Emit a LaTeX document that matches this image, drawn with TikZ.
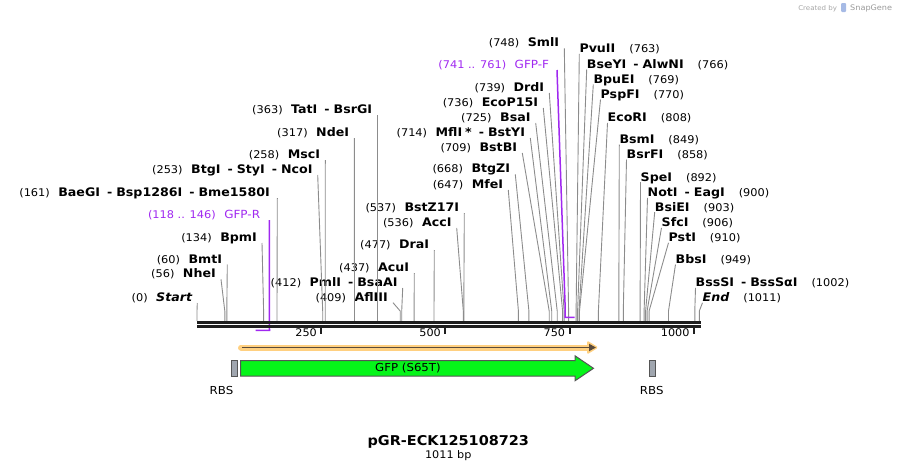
\documentclass[tikz,border=0pt]{standalone}
\usepackage{fontspec}
\setmainfont{DejaVu Sans}[FakeStretch=1.07]
\usetikzlibrary{arrows.meta}
\definecolor{cutgray}{RGB}{140,140,140}
\definecolor{primerpurple}{RGB}{160,40,240}
\definecolor{bbblack}{RGB}{30,30,30}
\definecolor{gfpgreen}{RGB}{5,245,25}
\definecolor{featline}{RGB}{85,85,85}
\definecolor{orfglow}{RGB}{255,208,128}
\definecolor{orfline}{RGB}{90,75,60}
\definecolor{rbsgray}{RGB}{160,166,175}
\newcommand{\cpos}[1]{{\fontsize{10.6}{12}\selectfont #1}}
\newcommand{\cname}[1]{{\fontsize{11.8}{13}\selectfont\bfseries #1}}
\newcommand{\cdash}{\hspace{7pt}\cname{-}\hspace{4pt}}
\newcommand{\lgap}{\hspace{8.5pt}}
\newcommand{\rgap}{\hspace{14pt}}

\begin{document}
\begin{tikzpicture}[
    x=1pt, y=-1pt,
    lft/.style={anchor=base east, inner sep=0pt},
    rgt/.style={anchor=base west, inner sep=0pt},
    cut/.style={cutgray, line width=0.9pt},
    primer/.style={primerpurple, line width=1.5pt},
    bb/.style={bbblack, line width=3pt},
    tick/.style={bbblack, line width=2pt},
    ticklbl/.style={anchor=base east, inner sep=0pt, font=\fontsize{10.5}{12}\selectfont},
    rbsbox/.style={draw=featline, fill=rbsgray, line width=1pt, minimum width=6.5pt, minimum height=15.5pt, inner sep=0pt},
    featlbl/.style={inner sep=0pt, font=\fontsize{11}{13}\selectfont}
]
    \useasboundingbox (0,0) rectangle (898,471);

    % Sites on the backbone
    \coordinate (c0) at (197,321);
    \coordinate (c56) at (224.8,321);
    \coordinate (c60) at (226.8,321);
    \coordinate (c134) at (263.6,321);
    \coordinate (c161) at (277.0,321);
    \coordinate (c253) at (322.7,321);
    \coordinate (c258) at (325.2,321);
    \coordinate (c317) at (354.5,321);
    \coordinate (c363) at (377.3,321);
    \coordinate (c409) at (400.2,321);
    \coordinate (c412) at (401.7,321);
    \coordinate (c437) at (414.1,321);
    \coordinate (c477) at (434.0,321);
    \coordinate (c536) at (463.3,321);
    \coordinate (c537) at (463.8,321);
    \coordinate (c647) at (518.4,321);
    \coordinate (c668) at (528.9,321);
    \coordinate (c709) at (549.2,321);
    \coordinate (c714) at (551.7,321);
    \coordinate (c725) at (557.2,321);
    \coordinate (c736) at (562.6,321);
    \coordinate (c739) at (564.1,321);
    \coordinate (c748) at (568.6,321);
    \coordinate (c763) at (576.1,321);
    \coordinate (c766) at (577.6,321);
    \coordinate (c769) at (579.0,321);
    \coordinate (c770) at (579.5,321);
    \coordinate (c808) at (598.4,321);
    \coordinate (c849) at (618.8,321);
    \coordinate (c858) at (623.3,321);
    \coordinate (c892) at (640.1,321);
    \coordinate (c900) at (644.1,321);
    \coordinate (c903) at (645.6,321);
    \coordinate (c906) at (647.1,321);
    \coordinate (c910) at (649.1,321);
    \coordinate (c949) at (668.5,321);
    \coordinate (c1002) at (694.8,321);
    \coordinate (c1011) at (699.3,321);

    % Enzymes left of their site
    \node[lft] (tati) at (372.3,113.5) {\cpos{(363)}\lgap\cname{TatI}\cdash\cname{BsrGI}};
    \node[lft] (ndei) at (349.3,136.5) {\cpos{(317)}\lgap\cname{NdeI}};
    \node[lft] (msci) at (320.3,158.5) {\cpos{(258)}\lgap\cname{MscI}};
    \node[lft] (btgi) at (312.7,173.5) {\cpos{(253)}\lgap\cname{BtgI}\cdash\cname{StyI}\cdash\cname{NcoI}};
    \node[lft] (baegi) at (270,196.5) {\cpos{(161)}\lgap\cname{BaeGI}\cdash\cname{Bsp1286I}\cdash\cname{Bme1580I}};
    \node[lft] (bpmi) at (257,241.5) {\cpos{(134)}\lgap\cname{BpmI}};
    \node[lft] (bmti) at (222.3,263) {\cpos{(60)}\lgap\cname{BmtI}};
    \node[lft] (nhei) at (216,277.8) {\cpos{(56)}\lgap\cname{NheI}};
    \node[lft] (start) at (192.3,301.5) {\cpos{(0)}\lgap\cname{\itshape Start}};
    \node[lft] (pmli) at (397.7,286.5) {\cpos{(412)}\lgap\cname{PmlI}\cdash\cname{BsaAI}};
    \node[lft] (afliii) at (388,301.2) {\cpos{(409)}\lgap\cname{AflIII}};
    \node[lft] (acui) at (409.3,271.5) {\cpos{(437)}\lgap\cname{AcuI}};
    \node[lft] (drai) at (429.3,248.5) {\cpos{(477)}\lgap\cname{DraI}};
    \node[lft] (acci) at (451.7,226.5) {\cpos{(536)}\lgap\cname{AccI}};
    \node[lft] (bstz) at (459.3,211.5) {\cpos{(537)}\lgap\cname{BstZ17I}};
    \node[lft] (mfei) at (503.3,188.5) {\cpos{(647)}\lgap\cname{MfeI}};
    \node[lft] (btgzi) at (510.3,172.8) {\cpos{(668)}\lgap\cname{BtgZI}};
    \node[lft] (bstbi) at (517.3,151.5) {\cpos{(709)}\lgap\cname{BstBI}};
    \node[lft] (mfli) at (525.3,136.5) {\cpos{(714)}\lgap\cname{MflI\hspace{3pt}*}\cdash\cname{BstYI}};
    \node[lft] (bsai) at (530.7,121.5) {\cpos{(725)}\lgap\cname{BsaI}};
    \node[lft] (ecop) at (538.3,106.5) {\cpos{(736)}\lgap\cname{EcoP15I}};
    \node[lft] (drdi) at (544.3,91.5) {\cpos{(739)}\lgap\cname{DrdI}};
    \node[lft] (smli) at (559.3,46.8) {\cpos{(748)}\lgap\cname{SmlI}};

    % Enzymes right of their site
    \node[rgt] (pvuii) at (579.3,52.8) {\cname{PvuII}\rgap\cpos{(763)}};
    \node[rgt] (bseyi) at (586.7,68.5) {\cname{BseYI}\cdash\cname{AlwNI}\rgap\cpos{(766)}};
    \node[rgt] (bpuei) at (593.3,83.5) {\cname{BpuEI}\rgap\cpos{(769)}};
    \node[rgt] (pspfi) at (600.5,98.5) {\cname{PspFI}\rgap\cpos{(770)}};
    \node[rgt] (ecori) at (607.5,121.8) {\cname{EcoRI}\rgap\cpos{(808)}};
    \node[rgt] (bsmi) at (619.3,143.5) {\cname{BsmI}\rgap\cpos{(849)}};
    \node[rgt] (bsrfi) at (626.5,158.5) {\cname{BsrFI}\rgap\cpos{(858)}};
    \node[rgt] (spei) at (640.5,181.2) {\cname{SpeI}\rgap\cpos{(892)}};
    \node[rgt] (noti) at (647.5,196.8) {\cname{NotI}\cdash\cname{EagI}\rgap\cpos{(900)}};
    \node[rgt] (bsiei) at (654.7,211.2) {\cname{BsiEI}\rgap\cpos{(903)}};
    \node[rgt] (sfci) at (661.5,226.8) {\cname{SfcI}\rgap\cpos{(906)}};
    \node[rgt] (psti) at (668.5,241.8) {\cname{PstI}\rgap\cpos{(910)}};
    \node[rgt] (bbsi) at (675.5,263.5) {\cname{BbsI}\rgap\cpos{(949)}};
    \node[rgt] (bsssi) at (695.5,286.8) {\cname{BssSI}\cdash\cname{BssSαI}\rgap\cpos{(1002)}};
    \node[rgt] (endpt) at (702.5,301.8) {\cname{\itshape End}\rgap\cpos{(1011)}};

    % Cut lines
    \draw[cut] ([xshift=5pt,yshift=-1.5pt]tati.base east) -- ([yshift=10pt]c363) -- (c363);
    \draw[cut] ([xshift=5pt,yshift=-1.5pt]ndei.base east) -- ([yshift=10pt]c317) -- (c317);
    \draw[cut] ([xshift=5pt,yshift=-1.5pt]msci.base east) -- ([yshift=10pt]c258) -- (c258);
    \draw[cut] ([xshift=5pt,yshift=-1.5pt]btgi.base east) -- ([yshift=10pt]c253) -- (c253);
    \draw[cut] ([xshift=7.3pt,yshift=-1.5pt]baegi.base east) -- ([yshift=10pt]c161) -- (c161);
    \draw[cut] ([xshift=5pt,yshift=-1.5pt]bpmi.base east) -- ([yshift=10pt]c134) -- (c134);
    \draw[cut] ([xshift=5pt,yshift=-1.5pt]bmti.base east) -- ([yshift=10pt]c60) -- (c60);
    \draw[cut] ([xshift=5pt,yshift=-1.5pt]nhei.base east) -- ([yshift=10pt]c56) -- (c56);
    \draw[cut] ([xshift=5pt,yshift=-1.5pt]start.base east) -- ([yshift=10pt]c0) -- (c0);
    \draw[cut] ([xshift=5pt,yshift=-1.5pt]pmli.base east) -- ([yshift=10pt]c412) -- (c412);
    \draw[cut] ([xshift=5pt,yshift=-1.5pt]afliii.base east) -- ([yshift=10pt]c409) -- (c409);
    \draw[cut] ([xshift=5pt,yshift=-1.5pt]acui.base east) -- ([yshift=10pt]c437) -- (c437);
    \draw[cut] ([xshift=5pt,yshift=-1.5pt]drai.base east) -- ([yshift=10pt]c477) -- (c477);
    \draw[cut] ([xshift=5pt,yshift=-1.5pt]acci.base east) -- ([yshift=10pt]c536) -- (c536);
    \draw[cut] ([xshift=5pt,yshift=-1.5pt]bstz.base east) -- ([yshift=10pt]c537) -- (c537);
    \draw[cut] ([xshift=5pt,yshift=-1.5pt]mfei.base east) -- ([yshift=10pt]c647) -- (c647);
    \draw[cut] ([xshift=5pt,yshift=-1.5pt]btgzi.base east) -- ([yshift=10pt]c668) -- (c668);
    \draw[cut] ([xshift=5pt,yshift=-1.5pt]bstbi.base east) -- ([yshift=10pt]c709) -- (c709);
    \draw[cut] ([xshift=5pt,yshift=-1.5pt]mfli.base east) -- ([yshift=10pt]c714) -- (c714);
    \draw[cut] ([xshift=5pt,yshift=-1.5pt]bsai.base east) -- ([yshift=10pt]c725) -- (c725);
    \draw[cut] ([xshift=5pt,yshift=-1.5pt]ecop.base east) -- ([yshift=10pt]c736) -- (c736);
    \draw[cut] ([xshift=5pt,yshift=-1.5pt]drdi.base east) -- ([yshift=10pt]c739) -- (c739);
    \draw[cut] ([xshift=5pt,yshift=-1.5pt]smli.base east) -- ([yshift=10pt]c748) -- (c748);
    \draw[cut] ([yshift=-1pt]pvuii.base west) -- ([yshift=10pt]c763) -- (c763);
    \draw[cut] ([yshift=-1pt]bseyi.base west) -- ([yshift=10pt]c766) -- (c766);
    \draw[cut] ([yshift=-1pt]bpuei.base west) -- ([yshift=10pt]c769) -- (c769);
    \draw[cut] ([yshift=-1pt]pspfi.base west) -- ([yshift=10pt]c770) -- (c770);
    \draw[cut] ([yshift=-1pt]ecori.base west) -- ([yshift=10pt]c808) -- (c808);
    \draw[cut] ([yshift=-1pt]bsmi.base west) -- ([yshift=10pt]c849) -- (c849);
    \draw[cut] ([yshift=-1pt]bsrfi.base west) -- ([yshift=10pt]c858) -- (c858);
    \draw[cut] ([yshift=-1pt]spei.base west) -- ([yshift=10pt]c892) -- (c892);
    \draw[cut] ([yshift=-1pt]noti.base west) -- ([yshift=10pt]c900) -- (c900);
    \draw[cut] ([yshift=-1pt]bsiei.base west) -- ([yshift=10pt]c903) -- (c903);
    \draw[cut] ([yshift=-1pt]sfci.base west) -- ([yshift=10pt]c906) -- (c906);
    \draw[cut] ([yshift=-1pt]psti.base west) -- ([yshift=10pt]c910) -- (c910);
    \draw[cut] ([yshift=-1pt]bbsi.base west) -- ([yshift=10pt]c949) -- (c949);
    \draw[cut] ([yshift=-1pt]bsssi.base west) -- ([yshift=10pt]c1002) -- (c1002);
    \draw[cut] ([yshift=-1pt]endpt.base west) -- ([yshift=10pt]c1011) -- (c1011);

    % Primers
    \coordinate (p118) at (255.6,330.3);
    \coordinate (p146) at (269.5,330.3);
    \coordinate (p741) at (565.1,317.3);
    \coordinate (p761) at (574.6,317.3);
    \node[lft, text=primerpurple] (gfpr) at (260.3,218.5) {\cpos{(118 .. 146)}\lgap{\fontsize{11.2}{13}\selectfont GFP-R}};
    \node[lft, text=primerpurple] (gfpf) at (549.3,68) {\cpos{(741 .. 761)}\lgap{\fontsize{11.2}{13}\selectfont GFP-F}};
    \draw[primer] ([xshift=9pt,yshift=-1.5pt]gfpr.base east) -- (p146) -- (p118);
    \draw[primer] ([xshift=7.7pt,yshift=-2pt]gfpf.base east) -- ([yshift=12pt]p741) -- (p741) -- (p761);

    % Backbone and ruler
    \draw[bb] (197,322.2) -- (701,322.2);
    \draw[bb] (197,326.5) -- (701,326.5);
    \draw[tick] (321.2,328) -- (321.2,333.8);
    \draw[tick] (445.4,328) -- (445.4,333.8);
    \draw[tick] (569.6,328) -- (569.6,333.8);
    \draw[tick] (693.8,328) -- (693.8,333.8);
    \node[ticklbl] (t250) at (317,336.8) {250};
    \node[ticklbl] (t500) at (441,336.8) {500};
    \node[ticklbl] (t750) at (565.3,336.8) {750};
    \node[ticklbl] (t1000) at (689.7,336.8) {1000};

    % Features
    \draw[orfglow, line width=6pt, line cap=round] (241,347.5) -- (589,347.5);
    \fill[orfglow, rounded corners=1.5pt] (587,340.5) -- (598.5,347.5) -- (587,354.5) -- cycle;
    \draw[orfline, line width=1.8pt, -{Triangle[length=7pt,width=7pt]}] (242,347.5) -- (596,347.5);
    \draw[featline, fill=gfpgreen, line width=1pt] (240.7,360.5) -- (575,360.5) -- (575,355.8) -- (593.5,368.3) -- (575,380.8) -- (575,376.2) -- (240.7,376.2) -- cycle;
    \node[featlbl] (gfp) at (408,368.3) {GFP (S65T)};
    \node[rbsbox] (rbs1) at (234.4,368.3) {};
    \node[rbsbox] (rbs2) at (652.5,368.3) {};
    \node[featlbl, anchor=base] (rbs1lbl) at (221.5,394) {RBS};
    \node[featlbl, anchor=base] (rbs2lbl) at (651.7,394) {RBS};

    % Title
    \node[anchor=base, font=\fontsize{13.5}{16}\selectfont\bfseries] (title) at (448.3,445) {pGR-ECK125108723};
    \node[anchor=base, font=\fontsize{10.5}{12}\selectfont] (size) at (448.3,458.3) {1011 bp};

    % Watermark
    \node[anchor=base east, inner sep=0pt, text=black!35, font=\fontsize{6.6}{8}\selectfont] (made) at (837.3,10.7) {Created by};
    \fill[cyan!45!blue!35, rounded corners=1pt] (841,3) rectangle (846,12);
    \node[anchor=base west, inner sep=0pt, text=black!40, font=\fontsize{7.6}{9}\selectfont] (sg) at (850,10.7) {SnapGene};
\end{tikzpicture}
\end{document}
